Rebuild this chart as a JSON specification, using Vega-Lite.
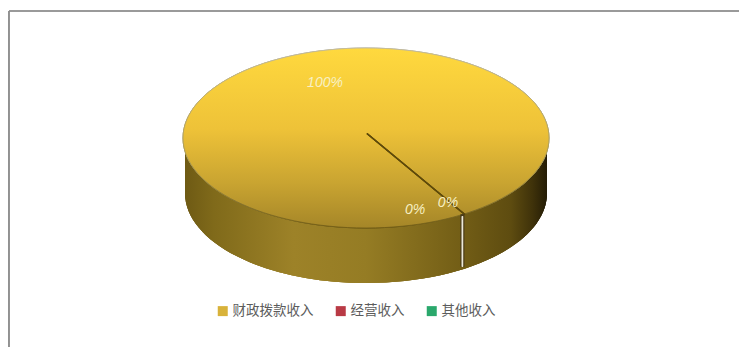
{"$schema":"https://vega.github.io/schema/vega-lite/v6.json","width":739,"height":347,"padding":0,"autosize":"none","background":"#ffffff","config":{"view":{"stroke":null}},
"data":{"values":[{"category":"财政拨款收入","share":1,"label":"100%"},{"category":"经营收入","share":0,"label":"0%"},{"category":"其他收入","share":0,"label":"0%"}]},
"encoding":{"x":{"datum":0,"type":"quantitative","scale":{"domain":[-1,1],"range":[183,549]},"axis":null},"y":{"datum":0,"type":"quantitative","scale":{"domain":[-1,1],"range":[228,48]},"axis":null}},
"layer":[
{"mark":{"type":"rule","color":"#8c8c8c","strokeWidth":1.2},"encoding":{"x":{"datum":-1.951,"type":"quantitative"},"y":{"datum":1.411,"type":"quantitative"},"y2":{"datum":-2.34}}},
{"mark":{"type":"rule","color":"#8c8c8c","strokeWidth":1.2},"encoding":{"x":{"datum":-1.951,"type":"quantitative"},"x2":{"datum":2.04},"y":{"datum":1.411,"type":"quantitative"}}},
{"mark":{"type":"point","filled":true,"size":4,"opacity":1,"shape":"M-181,0 L-181,55 C-181,104.7 -101,145 0,145 C101,145 181,104.7 181,55 L181,0 Z","fill":{"gradient":"linear","x1":0,"y1":0,"x2":1,"y2":0,"stops":[{"offset":0,"color":"#6e5a14"},{"offset":0.08,"color":"#806a1a"},{"offset":0.3,"color":"#9d8228"},{"offset":0.5,"color":"#957c24"},{"offset":0.76,"color":"#735e16"},{"offset":0.9,"color":"#5e4c10"},{"offset":0.96,"color":"#3f320a"},{"offset":1,"color":"#241c06"}]}}},
{"mark":{"type":"point","filled":true,"size":4,"opacity":1,"shape":"M-183,0 C-183,-49.7 -101.1,-90 0,-90 C101.1,-90 183,-49.7 183,0 C183,49.7 101.1,90 0,90 C-101.1,90 -183,49.7 -183,0 Z","strokeWidth":0.8,"stroke":{"gradient":"linear","x1":0,"y1":0,"x2":0,"y2":1,"stops":[{"offset":0,"color":"#bdb8a4"},{"offset":0.6,"color":"#a89a5a"},{"offset":1,"color":"#6e5a14"}]},"fill":{"gradient":"linear","x1":0,"y1":0,"x2":0,"y2":1,"stops":[{"offset":0,"color":"#ffd93e"},{"offset":0.45,"color":"#eec238"},{"offset":0.75,"color":"#c9a431"},{"offset":1,"color":"#a58628"}]}}},
{"mark":{"type":"rule","color":"#5e4a0a","strokeWidth":1.4},"encoding":{"x":{"datum":0.005,"type":"quantitative"},"x2":{"datum":0.54},"y":{"datum":0.05,"type":"quantitative"},"y2":{"datum":-0.85}}},
{"mark":{"type":"rule","color":"#4a3c18","strokeWidth":3.5},"encoding":{"x":{"datum":0.527,"type":"quantitative"},"y":{"datum":-0.85,"type":"quantitative"},"y2":{"datum":-1.43}}},
{"mark":{"type":"rule","color":"#ece8d8","strokeWidth":1.3},"encoding":{"x":{"datum":0.527,"type":"quantitative"},"y":{"datum":-0.87,"type":"quantitative"},"y2":{"datum":-1.43}}},
{"transform":[{"filter":"datum.category==='财政拨款收入'"}],"mark":{"type":"text","font":"Liberation Sans","fontStyle":"italic","fontSize":14,"color":"#f7f0c4","align":"center","baseline":"middle"},"encoding":{"text":{"field":"label"},"x":{"datum":-0.224,"type":"quantitative"},"y":{"datum":0.61,"type":"quantitative"}}},
{"transform":[{"filter":"datum.category==='经营收入'"}],"mark":{"type":"text","font":"Liberation Sans","fontStyle":"italic","fontSize":14,"color":"#f7f0c4","align":"center","baseline":"middle"},"encoding":{"text":{"field":"label"},"x":{"datum":0.268,"type":"quantitative"},"y":{"datum":-0.8,"type":"quantitative"}}},
{"transform":[{"filter":"datum.category==='其他收入'"}],"mark":{"type":"text","font":"Liberation Sans","fontStyle":"italic","fontSize":14,"color":"#f7f0c4","align":"center","baseline":"middle"},"encoding":{"text":{"field":"label"},"x":{"datum":0.448,"type":"quantitative"},"y":{"datum":-0.72,"type":"quantitative"}}},
{"mark":{"type":"point","filled":true,"size":0,"opacity":0},"encoding":{"color":{"field":"category","type":"nominal","sort":null,"scale":{"domain":["财政拨款收入","经营收入","其他收入"],"range":["#d8b23a","#b93a45","#2aa86c"]},"legend":{"title":null,"orient":"none","legendX":216,"legendY":304,"direction":"horizontal","columns":3,"symbolType":"square","symbolSize":100,"symbolOpacity":1,"symbolStrokeWidth":0,"labelFont":"Noto Sans CJK SC","labelFontSize":13.5,"labelColor":"#5c5c5c","labelOffset":3,"columnPadding":20,"padding":0}}}}
]}
